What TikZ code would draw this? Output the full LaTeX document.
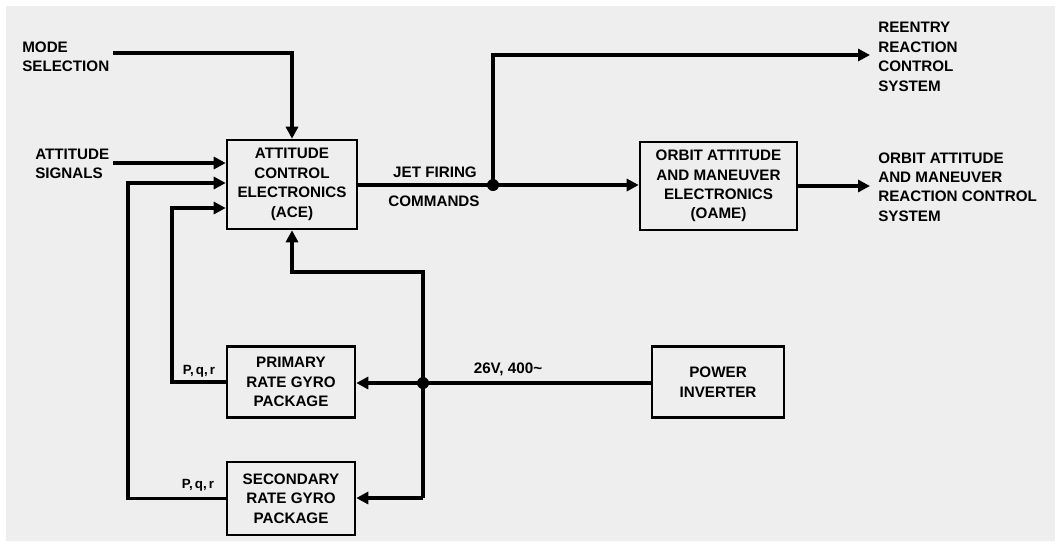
\documentclass[tikz,border=0pt]{standalone}
\usepackage{fontspec}
\setmainfont{Liberation Sans}
\usetikzlibrary{arrows.meta}
\definecolor{bgpaper}{RGB}{238,238,238}
\tikzset{
  blk/.style={draw=black, line width=1.9pt, fill=none, align=center, inner sep=0pt,
              font=\bfseries\fontsize{11.4pt}{14.6pt}\selectfont},
  lbl/.style={align=left, inner sep=0pt, font=\bfseries\fontsize{11.4pt}{14.6pt}\selectfont},
  clbl/.style={align=center, inner sep=0pt, font=\bfseries\fontsize{11.4pt}{14.6pt}\selectfont},
  slbl/.style={inner sep=0pt, font=\bfseries\fontsize{10pt}{12pt}\selectfont},
  wire/.style={line width=2.8pt, line join=miter},
  arr/.style={wire, -{Triangle[length=9pt,width=9pt]}},
  jdot/.style={circle, fill=black, inner sep=0pt, minimum size=9pt}
}
\begin{document}
\begin{tikzpicture}[x=0.75pt,y=-0.75pt]
\useasboundingbox (0,0) rectangle (1055,544);
\fill[white] (0,0) rectangle (1055,544);
\fill[bgpaper] (6,6) rectangle (1055,541);

% blocks
\node[blk, minimum width=97.5pt, minimum height=66.75pt] (ace) at (292,184.5)
  {ATTITUDE\\CONTROL\\ELECTRONICS\\(ACE)};
\node[blk, minimum width=117.75pt, minimum height=66pt] (oame) at (718.5,186)
  {ORBIT ATTITUDE\\AND MANEUVER\\ELECTRONICS\\(OAME)};
\node[blk, minimum width=96pt, minimum height=53.25pt] (pri) at (291,382)
  {PRIMARY\\RATE GYRO\\PACKAGE};
\node[blk, minimum width=96pt, minimum height=54.75pt] (sec) at (291,498.5)
  {SECONDARY\\RATE GYRO\\PACKAGE};
\node[blk, minimum width=99pt, minimum height=53.25pt] (pinv) at (718,382)
  {POWER\\INVERTER};

% text labels
\node[lbl, anchor=west] (mode) at (22,57) {MODE\\SELECTION};
\node[lbl, anchor=west] (att) at (35,164) {ATTITUDE\\SIGNALS};
\node[lbl, anchor=west] (reentry) at (878,57) {REENTRY\\REACTION\\CONTROL\\SYSTEM};
\node[lbl, anchor=west] (oamrcs) at (878,187) {ORBIT ATTITUDE\\AND MANEUVER\\REACTION CONTROL\\SYSTEM};
\node[clbl] (jet) at (435,172) {JET FIRING};
\node[clbl] (cmd) at (434,201) {COMMANDS};
\node[slbl] (pqr1) at (199,371) {P,\,q,\,r};
\node[slbl] (pqr2) at (198,485) {P,\,q,\,r};
\node[clbl] (volt) at (508,369) {26V, 400\textasciitilde};

% coordinates
\coordinate (ms) at (113,53);
\coordinate (as) at (113,163);
\coordinate (c2) at (128,183);
\coordinate (c3) at (172,208);
\coordinate (jj) at (493,185);
\coordinate (rt) at (493,55);
\coordinate (rend) at (870,55);
\coordinate (oend) at (870,186);
\coordinate (ja) at (423,272);
\coordinate (jp) at (423,383);
\coordinate (jb) at (423,498);

% connectors
\draw[arr] (ms) -| (ace.north);
\draw[arr] (as) -- (as -| ace.west);
\draw[arr] (sec.west) -| (c2) -- (c2 -| ace.west);
\draw[arr] (pri.west) -| (c3) -- (c3 -| ace.west);
\draw[wire] (jj -| ace.east) -- (jj);
\draw[arr] (jj) -- (jj -| oame.west);
\draw[arr] (jj) -- (rt) -- (rend);
\draw[arr] (oame.east) -- (oend);
\draw[wire] (jp -| pinv.west) -- (jp);
\draw[arr] (jp) -- (jp -| pri.east);
\draw[arr] (jb) -- (jb -| sec.east);
\draw[arr] (jb) -- (ja) -| (ace.south);

\node[jdot] (d1) at (jj) {};
\node[jdot] (d2) at (jp) {};
\end{tikzpicture}
\end{document}
